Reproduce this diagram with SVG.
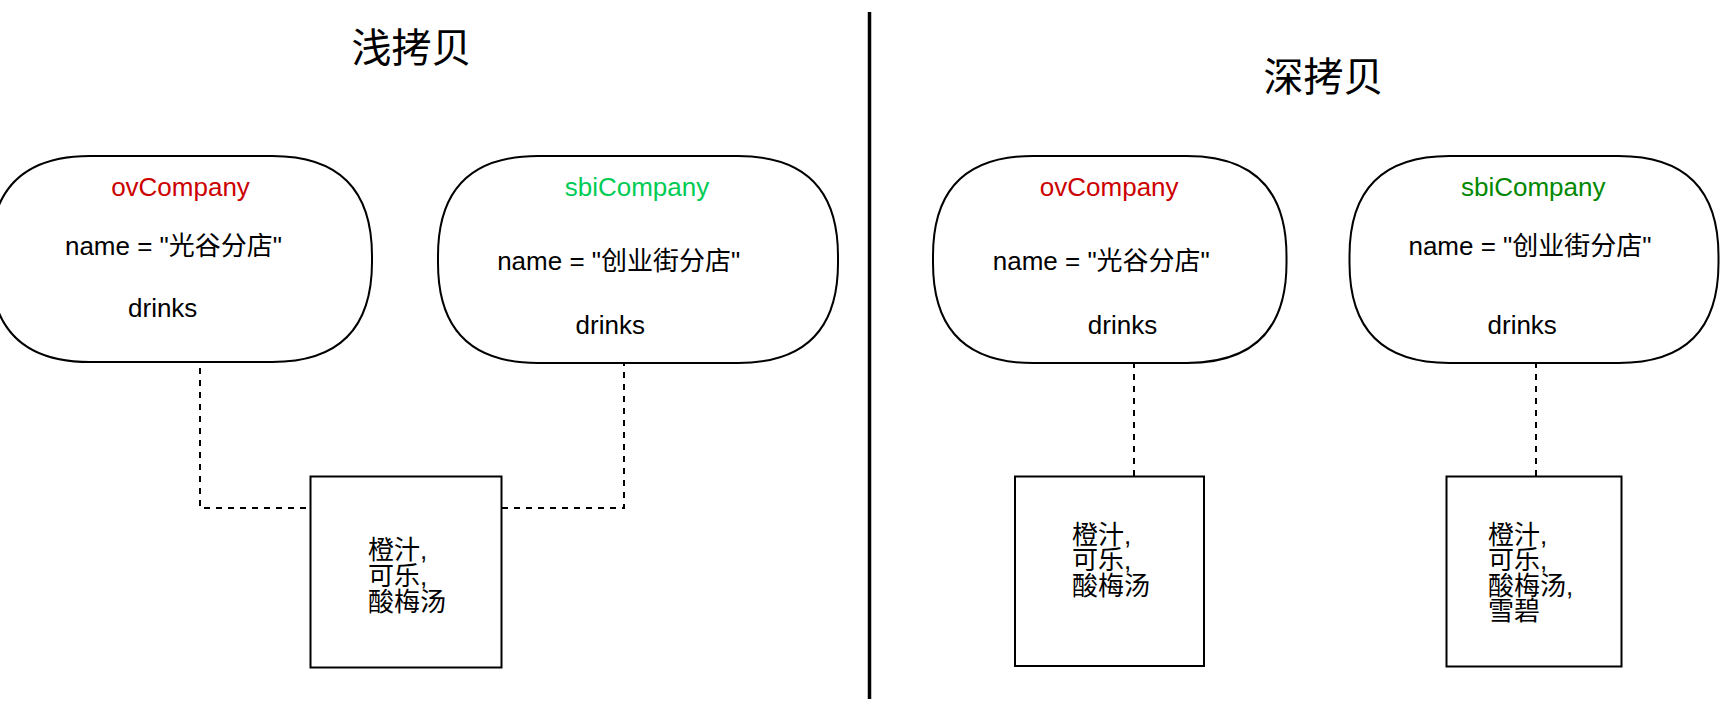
<svg xmlns="http://www.w3.org/2000/svg" width="1736" height="704" viewBox="0 0 1736 704">
<style>
text{font-family:"Liberation Sans","Noto Sans CJK SC",sans-serif;font-size:26px;fill:#000}
.mid{text-anchor:middle}
.title{font-size:40px}
.shape{fill:#fff;stroke:#000;stroke-width:2}
.dash{fill:none;stroke:#000;stroke-width:2;stroke-dasharray:6 6}
.red{fill:#CC0000}
.lgreen{fill:#00CC55}
.dgreen{fill:#008800}
</style>
<rect width="1736" height="704" fill="#fff"/>
<g id="titles">
<text class="mid title" x="411.5" y="62">浅拷贝</text>
<text class="mid title" x="1323.5" y="91">深拷贝</text>
</g>
<line id="divider" x1="869.5" y1="12" x2="869.5" y2="699" stroke="#000" stroke-width="3.5"/>
<g id="connectors">
<path class="dash" d="M200,332 L200,508 L310,508"/>
<path class="dash" d="M624,348 L624,508 L502,508"/>
<path class="dash" d="M1134,350 L1134,476"/>
<path class="dash" d="M1536,350 L1536,476"/>
</g>
<g id="shallow-ovCompany">
<path class="shape" d="M90,156 L272,156 Q372,156 372,256 L372,262 Q372,362 272,362 L90,362 Q-10,362 -10,262 L-10,256 Q-10,156 90,156 Z"/>
<text class="mid red" x="180.5" y="196">ovCompany</text>
<text class="mid" x="173.5" y="255">name = "光谷分店"</text>
<text class="mid" x="162.7" y="317">drinks</text>
</g>
<g id="shallow-sbiCompany">
<path class="shape" d="M538,156 L738,156 Q838,156 838,256 L838,263 Q838,363 738,363 L538,363 Q438,363 438,263 L438,256 Q438,156 538,156 Z"/>
<text class="mid lgreen" x="637" y="196">sbiCompany</text>
<text class="mid" x="618.7" y="269.5">name = "创业街分店"</text>
<text class="mid" x="610.3" y="333.5">drinks</text>
</g>
<g id="shallow-drinks">
<rect class="shape" x="310.5" y="476.5" width="191" height="191"/>
<text x="368" y="559">橙汁,</text>
<text x="368" y="585">可乐,</text>
<text x="368" y="611">酸梅汤</text>
</g>
<g id="deep-ovCompany">
<path class="shape" d="M1033,156 L1186.5,156 Q1286.5,156 1286.5,256 L1286.5,263 Q1286.5,363 1186.5,363 L1033,363 Q933,363 933,263 L933,256 Q933,156 1033,156 Z"/>
<text class="mid red" x="1109.2" y="196">ovCompany</text>
<text class="mid" x="1101.3" y="270">name = "光谷分店"</text>
<text class="mid" x="1122.5" y="334">drinks</text>
</g>
<g id="deep-sbiCompany">
<path class="shape" d="M1449.5,156 L1618.5,156 Q1718.5,156 1718.5,256 L1718.5,263 Q1718.5,363 1618.5,363 L1449.5,363 Q1349.5,363 1349.5,263 L1349.5,256 Q1349.5,156 1449.5,156 Z"/>
<text class="mid dgreen" x="1533.2" y="196">sbiCompany</text>
<text class="mid" x="1530" y="255">name = "创业街分店"</text>
<text class="mid" x="1522.2" y="334">drinks</text>
</g>
<g id="deep-ov-drinks">
<rect class="shape" x="1015" y="476.5" width="189" height="189.5"/>
<text x="1072" y="543.5">橙汁,</text>
<text x="1072" y="569">可乐,</text>
<text x="1072" y="594.5">酸梅汤</text>
</g>
<g id="deep-sbi-drinks">
<rect class="shape" x="1446.5" y="476.5" width="175" height="190"/>
<text x="1488" y="543.5">橙汁,</text>
<text x="1488" y="569">可乐,</text>
<text x="1488" y="594.5">酸梅汤,</text>
<text x="1488" y="620">雪碧</text>
</g>
</svg>
